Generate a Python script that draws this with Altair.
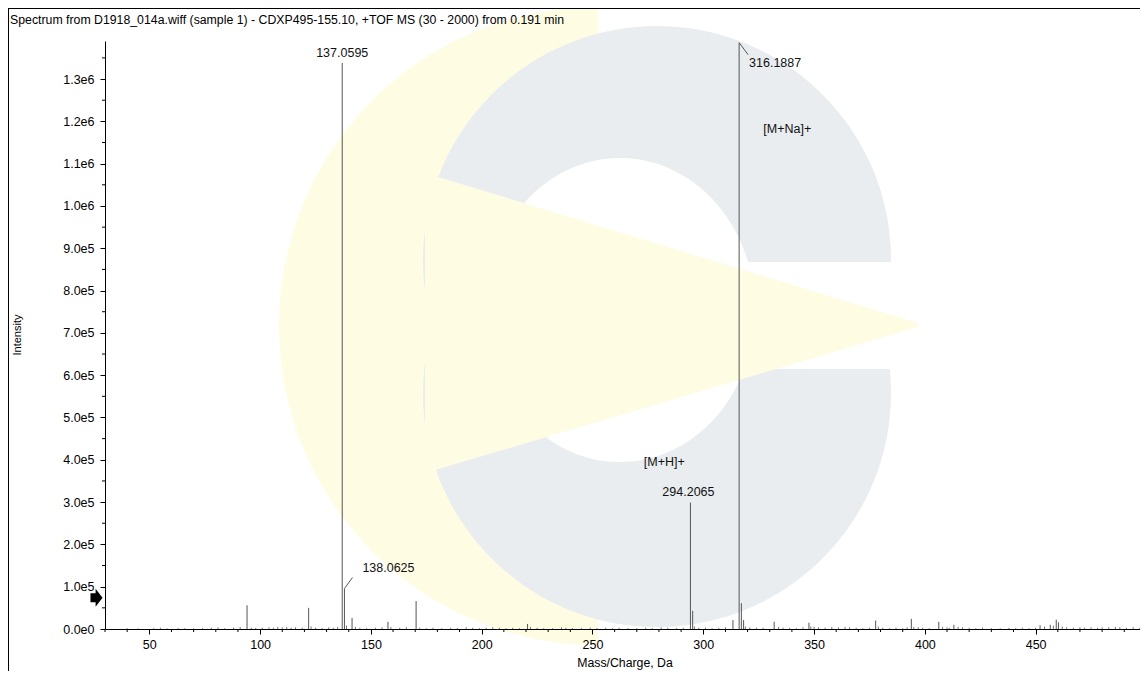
import altair as alt
import pandas as pd

# ---------------- data ----------------
peak_mz = [94.1, 121.9, 137.0595, 138.0625, 141.5, 157.7, 170.4, 220.7,
           294.2065, 295.21, 313.4, 316.1887, 317.19, 318.2, 332.0, 347.7,
           377.8, 393.9, 406.3, 413.1, 452.0, 456.6, 459.3, 460.3]
peak_int = [0.56e5, 0.50e5, 1.338e6, 0.957e5, 0.26e5, 0.17e5, 0.66e5, 0.12e5,
            2.99e5, 0.43e5, 0.21e5, 1.386e6, 0.61e5, 0.21e5, 0.17e5, 0.15e5,
            0.20e5, 0.24e5, 0.17e5, 0.10e5, 0.09e5, 0.10e5, 0.22e5, 0.16e5]

noise_mz = [40, 45, 52, 55, 58, 63, 66, 70, 74, 78, 81, 84, 88, 91, 96, 98, 101,
            104, 106, 108, 110, 112, 114, 116, 119, 123, 125, 128, 131, 133, 135,
            139, 143, 145, 148, 152, 155, 159, 163, 166, 172, 175, 178, 182, 186,
            189, 193, 196, 199, 202, 205, 208, 211, 214, 217, 222, 225, 228, 232,
            236, 238, 241, 245, 249, 252, 256, 259, 262, 266, 270, 274, 277, 281,
            284, 288, 291, 296, 298, 301, 304, 307, 310, 319, 321, 324, 327, 334,
            336, 339, 342, 345, 348.5, 350, 352, 355, 358, 361, 364, 366, 369, 372,
            375, 379, 381, 384, 387, 390, 392, 395, 397, 399, 402, 408, 410, 411,
            415, 417, 420, 423, 426, 430, 434, 438, 441, 444, 447, 450, 454, 458,
            462, 464, 467, 470, 472, 475, 478, 480, 483, 486, 488, 491, 494, 497]
noise_int = [2000, 1500, 2000, 3000, 1500, 2000, 2000, 1500, 2000, 3000, 4000,
             2000, 3000, 5000, 3000, 2500, 3000, 4000, 3000, 5000, 4000, 5000,
             3000, 4000, 3000, 6000, 3000, 2000, 4000, 3000, 5000, 8000, 5000,
             3000, 2000, 3000, 4000, 5000, 3000, 4000, 3000, 2000, 3000, 2000,
             3000, 2000, 4000, 3000, 2000, 3000, 4000, 3000, 2000, 3000, 2000,
             5000, 3000, 2000, 2000, 4000, 3000, 2000, 2000, 3000, 2000, 3000,
             2000, 3000, 2000, 2000, 3000, 2000, 4000, 3000, 2000, 3000, 6000,
             3000, 3000, 2000, 3000, 4000, 6000, 4000, 3000, 3000, 5000, 3000,
             3000, 2000, 4000, 6000, 5000, 4000, 3000, 5000, 4000, 5000, 4000,
             3000, 2000, 3000, 6000, 3000, 2000, 3000, 2000, 4000, 5000, 4000,
             3000, 2000, 5000, 4000, 3000, 5000, 4000, 3000, 2000, 3000, 2000,
             2000, 3000, 2000, 3000, 2000, 3000, 6000, 8000, 6000, 4000, 3000,
             4000, 3000, 4000, 3000, 4000, 4000, 5000, 4000, 3000, 4000, 3000]

label_text = ["137.0595", "138.0625", "294.2065", "316.1887"]
label_mz = [137.0595, 138.0625, 294.2065, 316.1887]
label_int = [1.338e6, 0.957e5, 2.99e5, 1.386e6]

ion_text = ["[M+Na]+", "[M+H]+"]
ion_mz = [337.9, 282.4]
ion_int = [11.83e5, 3.94e5]

threshold_int = [0.74e5]

x_major = [50, 100, 150, 200, 250, 300, 350, 400, 450]
x_minor = [v for v in range(30, 501, 10) if v % 50 != 0]
y_major = [i * 1e5 for i in range(0, 14)]
y_minor = [i * 1e5 + 0.5e5 for i in range(0, 14)]

title_text = ("Spectrum from D1918_014a.wiff (sample 1) - CDXP495-155.10, "
              "+TOF MS (30 - 2000) from 0.191 min")

# ---------------- layout ----------------
PL, PT, PB = 97, 33, 42
W, H = 1035, 588
PXU = 2.2158                      # pixels per m/z unit in the reference
XMAX = 30 + W / PXU
FONT = "Liberation Sans"

xs = alt.Scale(domain=[30, XMAX], nice=False, zero=False)
ys = alt.Scale(domain=[0, 1.39e6], nice=False, zero=True)

xaxis = alt.Axis(values=x_major, format="d", title=None, tickSize=5,
                 labelPadding=4, labelFontSize=12.5, zindex=2, grid=False)
yaxis = alt.Axis(values=y_major, title=None, tickSize=5, labelPadding=6,
                 labelFontSize=12.5, zindex=2, grid=False,
                 labelExpr="replace(format(datum.value, '.1e'), '+', '')")

X = alt.X("mz:Q", scale=xs, axis=xaxis)
Y = alt.Y("int:Q", scale=ys, axis=yaxis)
Xn = alt.X("mz:Q", scale=xs)
Yn = alt.Y("int:Q", scale=ys)

one = pd.DataFrame({"a": [0]})

# ---------------- watermark (pixel geometry, page coordinates) ----------------
CX, CY, S = 598.0, 326.0, 100.0


def p(px, py):
    return f"{(px - CX) / S:.4f},{(py - CY) / S:.4f}"


def ellipse(cx, cy, rx, ry):
    a, b = rx / S, ry / S
    return (f"M {p(cx - rx, cy)} A {a:.4f} {b:.4f} 0 1 0 {p(cx + rx, cy)} "
            f"A {a:.4f} {b:.4f} 0 1 0 {p(cx - rx, cy)} Z")


def poly(pts):
    return "M " + " L ".join(p(a, b) for a, b in pts) + " Z"


yellow = "#fffce4"
grey = "#e9edf0"

shapes = [
    (f"M {p(598, 7)} A 3.19 3.19 0 0 0 {p(598, 645)} Z", yellow),
    (ellipse(657, 260, 234, 234), grey),
    (ellipse(657, 393, 234, 234), grey),
    (ellipse(620, 310, 135, 152), "white"),
    (poly([(700, 262), (895, 262), (895, 369), (700, 369)]), "white"),
    (poly([(425, 173), (918, 323), (918, 327), (425, 473)]), yellow),
]

layers = []
for path, col in shapes:
    layers.append(
        alt.Chart(one).mark_point(shape=path, filled=True, color=col, opacity=1,
                                  strokeWidth=0, size=(2 * S) ** 2)
        .encode(x=alt.value(CX - 8 - PL), y=alt.value(CY - 8 - PT))
    )

# ---------------- frame & header ----------------
layers.append(alt.Chart(one).mark_rule(color="black", strokeWidth=1).encode(
    x=alt.value(-PL + 0.5), x2=alt.value(W + 20), y=alt.value(-PT + 0.5)))
layers.append(alt.Chart(one).mark_rule(color="black", strokeWidth=1).encode(
    x=alt.value(-PL + 0.5), y=alt.value(-PT), y2=alt.value(H + 60)))
layers.append(alt.Chart(one).mark_text(text=title_text, font=FONT, fontSize=12.3,
                                       align="left", baseline="middle", color="black")
              .encode(x=alt.value(10 - 8 - PL), y=alt.value(20 - 8 - PT)))
layers.append(alt.Chart(one).mark_text(text="Intensity", font=FONT, fontSize=11,
                                       angle=270, align="center", baseline="middle",
                                       color="black")
              .encode(x=alt.value(18 - 8 - PL), y=alt.value(H / 2)))
layers.append(alt.Chart(one).mark_text(text="Mass/Charge, Da", font=FONT, fontSize=12.3,
                                       align="center", baseline="middle", color="black")
              .encode(x=alt.value(625 - 8 - PL), y=alt.value(663 - 8 - PT)))

# ---------------- spectrum ----------------
noise_df = pd.DataFrame({"mz": noise_mz, "int": noise_int})
peak_df = pd.DataFrame({"mz": peak_mz, "int": peak_int})

layers.append(alt.Chart(noise_df).mark_rule(color="#777777", strokeWidth=1).encode(
    x=X, y=Y, y2=alt.datum(0)))
layers.append(alt.Chart(peak_df).mark_rule(color="#555555", strokeWidth=1).encode(
    x=Xn, y=Yn, y2=alt.datum(0)))

# minor ticks
layers.append(alt.Chart(pd.DataFrame({"mz": [v for v in x_minor if v < XMAX]}))
              .mark_rule(color="black").encode(x=Xn, y=alt.value(H), y2=alt.value(H + 3)))
layers.append(alt.Chart(pd.DataFrame({"int": y_minor})).mark_rule(color="black").encode(
    y=Yn, x=alt.value(-3), x2=alt.value(0)))

# peak labels
offsets = {"137.0595": (0, -10), "138.0625": (44, -21),
           "294.2065": (-2, -11), "316.1887": (36, 20)}
for t, m, v in zip(label_text, label_mz, label_int):
    dx, dy = offsets[t]
    layers.append(alt.Chart(pd.DataFrame({"mz": [m], "int": [v], "t": [t]}))
                  .mark_text(font=FONT, fontSize=12.5, color="#111111", dx=dx, dy=dy,
                             baseline="middle", align="center")
                  .encode(x=Xn, y=Yn, text="t:N"))

# leader lines
leaders = {"138.0625": (8, -11), "316.1887": (9, 12)}
for t, m, v in zip(label_text, label_mz, label_int):
    if t in leaders:
        ox, oy = leaders[t]
        layers.append(alt.Chart(pd.DataFrame({"mz": [m], "int": [v]}))
                      .mark_rule(color="#555555", strokeWidth=1, x2Offset=ox, y2Offset=oy)
                      .encode(x=Xn, y=Yn, x2="mz:Q", y2="int:Q"))

# ion annotations
layers.append(alt.Chart(pd.DataFrame({"mz": ion_mz, "int": ion_int, "t": ion_text}))
              .mark_text(font=FONT, fontSize=12.5, color="#111111", baseline="middle",
                         align="center")
              .encode(x=Xn, y=Yn, text="t:N"))

# threshold arrow
arrow = "M -0.67,-0.5 L -0.1,-0.5 L -0.1,-1 L 0.67,0 L -0.1,1 L -0.1,0.5 L -0.67,0.5 Z"
layers.append(alt.Chart(pd.DataFrame({"int": threshold_int}))
              .mark_point(shape=arrow, filled=True, color="black", opacity=1,
                          strokeWidth=0, size=324)
              .encode(x=alt.value(-8.5), y=Yn))

chart = alt.layer(*layers).properties(
    width=W, height=H,
    autosize=alt.AutoSizeParams(type="none"),
    padding={"left": PL, "top": PT, "right": 0, "bottom": PB},
).configure_view(strokeWidth=0).configure_axis(
    domainColor="black", tickColor="black", labelColor="black",
    labelFont=FONT, domainWidth=1, tickWidth=1,
)

chart.save("out.html", embed_options={"renderer": "svg", "actions": False})
